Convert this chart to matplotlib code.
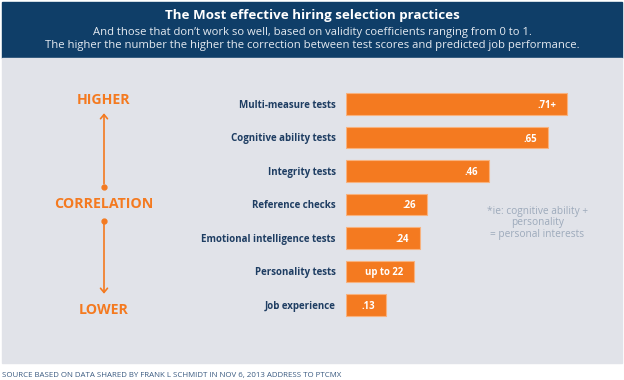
import matplotlib
matplotlib.use('Agg')
from matplotlib import pyplot as plt
from matplotlib.patches import Rectangle, FancyArrowPatch
from matplotlib.lines import Line2D

# data
practices = ['Multi-measure tests', 'Cognitive ability tests', 'Integrity tests',
             'Reference checks', 'Emotional intelligence tests', 'Personality tests',
             'Job experience']
values = [0.71, 0.65, 0.46, 0.26, 0.24, 0.22, 0.13]
value_labels = ['.71+', '.65', '.46', '.26', '.24', 'up to 22', '.13']

title = 'The Most effective hiring selection practices'
subtitle = ('And those that don\u2019t work so well, based on validity coefficients ranging from 0 to 1.\n'
            'The higher the number the higher the correction between test scores and predicted job performance.')
note = '*ie: cognitive ability +\npersonality\n= personal interests'
source = 'SOURCE BASED ON DATA SHARED BY FRANK L SCHMIDT IN NOV 6, 2013 ADDRESS TO PTCMX'

plt.rcParams['font.family'] = ['Open Sans', 'DejaVu Sans']

orange = '#F47A20'
navy = '#1E3D62'
header_blue = '#0F3E68'
panel_gray = '#E1E3E9'

W, H = 624, 380
fig = plt.figure(figsize=(W / 100, H / 100), dpi=100)
fig.patch.set_facecolor('white')

def fx(x):
    return x / W

def fy(y):
    return 1 - y / H

# header and panel backgrounds
fig.patches.append(Rectangle((fx(2), fy(57.5)), fx(620), 55.5 / H,
                             transform=fig.transFigure, color=header_blue, zorder=-10))
fig.patches.append(Rectangle((fx(2), fy(363)), fx(620), 305.5 / H,
                             transform=fig.transFigure, color=panel_gray, zorder=-10))

fig.text(0.5, fy(16), title, ha='center', va='center', color='white',
         fontsize=9.6, fontweight='bold')
fig.text(0.5, fy(39), subtitle, ha='center', va='center', color='#E4EAF1',
         fontsize=8.1, linespacing=1.35)
fig.text(fx(2), fy(376), source, ha='left', va='center', color='#3A5A80', fontsize=5.7)

# bars
ax = fig.add_axes([fx(345.5), (H - 321.75) / H, fx(270), 234.5 / H])
ax.set_facecolor('none')
pos = list(range(len(practices)))
ax.barh(pos, values, height=0.63, color=orange, edgecolor='#F8B27E', linewidth=0.8)
ax.set_xlim(0, 270 / 312)
ax.set_ylim(len(practices) - 0.5, -0.5)
ax.axis('off')
for i, (v, lab) in enumerate(zip(values, value_labels)):
    ax.annotate(lab, (v, i), xytext=(-8, 0), textcoords='offset points',
                ha='right', va='center_baseline', color='white', fontsize=6.9,
                fontweight='bold')
    ax.annotate(practices[i], (0, i), xytext=(-7, 0), textcoords='offset points',
                ha='right', va='center_baseline', color=navy, fontsize=7,
                fontweight='bold', annotation_clip=False)

ax.text(0.615, 3.55, note, ha='center', va='center', color='#9DAABB', fontsize=7.3,
        linespacing=1.1)

# left scale
for y, lab in [(100, 'HIGHER'), (204, 'CORRELATION'), (310, 'LOWER')]:
    fig.text(fx(104), fy(y), lab, ha='center', va='center', color=orange,
             fontsize=10.2, fontweight='bold')
for y0, y1 in [(186.5, 110.5), (220.5, 296.5)]:
    fig.patches.append(FancyArrowPatch(
        (fx(104), fy(y0)), (fx(104), fy(y1)), transform=fig.transFigure,
        arrowstyle='->,head_length=3,head_width=2.5', color=orange, lw=1.2))
    fig.lines.append(Line2D([fx(104)], [fy(y0)], transform=fig.transFigure,
                            marker='o', markersize=3.5, color=orange))

fig.savefig('out.png', dpi=100, facecolor=fig.get_facecolor())
